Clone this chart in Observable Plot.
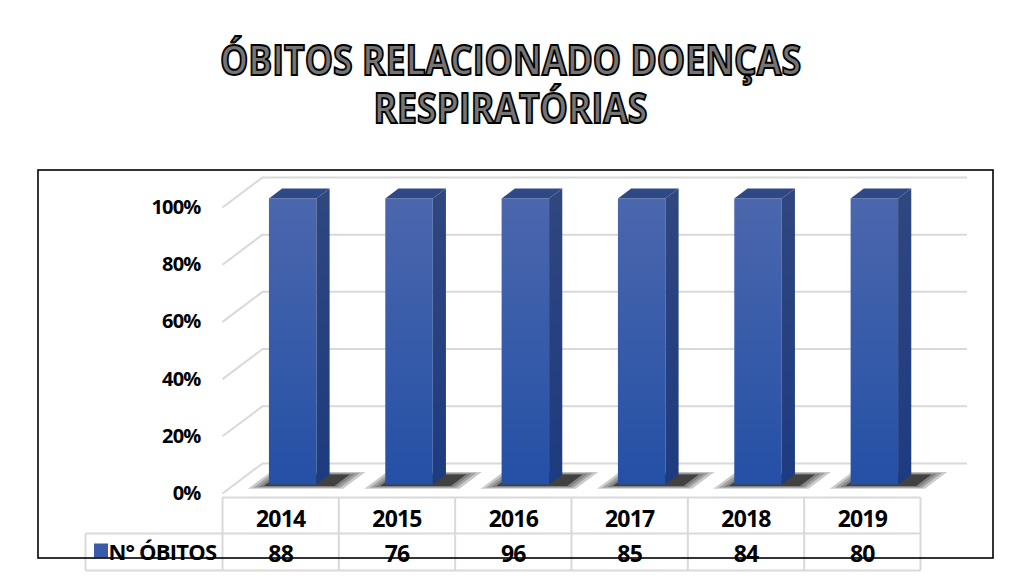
<!DOCTYPE html>
<html>
<head>
<meta charset="utf-8">
<script src="https://cdn.jsdelivr.net/npm/d3@7"></script>
<script src="https://cdn.jsdelivr.net/npm/@observablehq/plot@0.6"></script>
<style>
  html, body { margin: 0; padding: 0; background: #fff; }
  #wrap { width: 1011px; height: 579px; position: relative; overflow: hidden; }
  #title { position: relative; width: 1011px; height: 160px; }
  #tl { position: absolute; display: block; white-space: pre; text-align: center; font-family: "Open Sans", sans-serif; font-weight: 700;
        font-size: 42px; line-height: 48px; color: #757575; -webkit-text-stroke: 2px #000;
        transform-origin: 50% 0; }
  #chart svg text { letter-spacing: -0.8px; }
</style>
</head>
<body>
<div id="wrap">
  <div id="title"><div id="tl"></div></div>
  <div id="chart"></div>
</div>
<script>
// ---- data ----
const titleLines = ["ÓBITOS RELACIONADO DOENÇAS", "RESPIRATÓRIAS"];
const years = ["2014", "2015", "2016", "2017", "2018", "2019"];
const obitos = [88, 76, 96, 85, 84, 80];
const seriesName = "N° ÓBITOS";
const yTicks = [0, 0.2, 0.4, 0.6, 0.8, 1];
const yTickLabels = ["0%", "20%", "40%", "60%", "80%", "100%"];

// ---- title layout (single text block, squeezed horizontally to the reference width) ----
(function () {
  const el = document.getElementById("tl");
  el.textContent = titleLines.join("\n");
  const w = el.getBoundingClientRect().width;
  const target = 581, centerX = 511;
  el.style.top = "35px";
  el.style.left = (centerX - w / 2) + "px";
  el.style.transform = `scaleX(${target / w})`;
})();

// ---- chart geometry (100% stacked: one series, each year = 100%) ----
const share = obitos.map(v => v / v);
const DX = 0.344, DY = 0.105;   // floor depth in data units (oblique projection)
const f0 = 0.3, f1 = 0.33;      // bar front position / bar depth as fraction of floor depth
const halfW = 0.204;

const polys = [];
const shadows = [];
years.forEach((yr, i) => {
  const cx = i + f0 * DX;
  const x1 = cx - halfW, x2 = cx + halfW;
  const yb = f0 * DY, yt = share[i] + f0 * DY;
  const ox = f1 * DX, oy = f1 * DY;
  const add = (arr, face, pts) => pts.forEach(([x, y]) => arr.push({id: yr + face, face, x, y}));
  add(polys, "front", [[x1, yb], [x2, yb], [x2, yt], [x1, yt]]);
  add(polys, "side", [[x2, yb], [x2 + ox, yb + oy], [x2 + ox, yt + oy], [x2, yt]]);
  add(polys, "top", [[x1, yt], [x2, yt], [x2 + ox, yt + oy], [x1 + ox, yt + oy]]);
  // soft floor shadow: stacked translucent footprints on the floor plane (u along x, v along depth)
  const ua = x1 - 0.13, ub = x2 + 0.07, va = f0 - 0.05, vb = f0 + f1;
  for (let k = 0; k < 4; k++) {
    const du = 0.035 * k, dv = 0.03 * k;
    [[ua - du, va - dv], [ub + du, va - dv], [ub + du, vb + dv], [ua - du, vb + dv]].forEach(([u, v]) => {
      shadows.push({id: yr + "sh" + k, k, x: u + v * DX, y: v * DY});
    });
  }
});
const faceFill = {front: "url(#gFront)", side: "url(#gSide)", top: "#2f4986"};

// table geometry (pixel offsets below the 0% front line converted to y units)
const plotH = 419, mTop = 47, mBottom = 86;
const pxY = 1 / (plotH - mTop - mBottom);
const yTop = -4 * pxY, yMid = -40 * pxY, yBot = -77 * pxY;
const colW = (1011 - 222 - 91) / 6;
const xLeg = -0.5 - 137 / colW;
const bounds = d3.range(7).map(k => k - 0.5);
const hSegs = [
  {x1: -0.5, x2: 5.5, y: yTop},
  {x1: xLeg, x2: 5.5, y: yMid},
  {x1: xLeg, x2: 5.5, y: yBot}
];
const vSegs = bounds.map(b => ({x: b, y1: yTop, y2: yBot})).concat([{x: xLeg, y1: yMid, y2: yBot}]);

const gridC = "#d9d9d9";

const defs = () => {
  const d = d3.create("svg:defs");
  const g1 = d.append("linearGradient").attr("id", "gFront").attr("x1", 0).attr("y1", 0).attr("x2", 0).attr("y2", 1);
  g1.append("stop").attr("offset", 0).attr("stop-color", "#4b67ad");
  g1.append("stop").attr("offset", 1).attr("stop-color", "#2450a6");
  const g2 = d.append("linearGradient").attr("id", "gSide").attr("x1", 0).attr("y1", 0).attr("x2", 0).attr("y2", 1);
  g2.append("stop").attr("offset", 0).attr("stop-color", "#30477f");
  g2.append("stop").attr("offset", 1).attr("stop-color", "#1d3b80");
  return d.node();
};
const border = () => {
  return d3.create("svg:rect").attr("x", 38).attr("y", 10).attr("width", 955).attr("height", 388)
    .attr("fill", "none").attr("stroke", "#000").attr("stroke-width", 1.6).node();
};

const chart = Plot.plot({
  width: 1011,
  height: plotH,
  marginLeft: 222,
  marginRight: 91,
  marginTop: mTop,
  marginBottom: mBottom,
  x: {type: "linear", domain: [-0.5, 5.5], axis: null},
  y: {type: "linear", domain: [0, 1], axis: null},
  style: {fontFamily: "'Open Sans', sans-serif", overflow: "visible", background: "transparent", color: "#000"},
  marks: [
    defs,
    // back-wall gridlines
    Plot.ruleY(yTicks, {y: d => d + DY, x1: -0.5 + DX, x2: 5.5 + DX + 0.06, stroke: gridC, strokeWidth: 2}),
    // left wall diagonals
    Plot.link(yTicks, {x1: -0.5, y1: d => d, x2: -0.5 + DX, y2: d => d + DY, stroke: gridC, strokeWidth: 2}),
    // shadows (outer layers lighter, inner darker)
    Plot.line(shadows.filter(d => d.k > 0), {x: "x", y: "y", z: "id", fill: "#111", fillOpacity: 0.22, stroke: "none"}),
    Plot.line(shadows.filter(d => d.k === 0), {x: "x", y: "y", z: "id", fill: "#000", fillOpacity: 0.5, stroke: "none"}),
    // bars (3D faces)
    Plot.line(polys, {x: "x", y: "y", z: "id", fill: d => faceFill[d.face], stroke: "none"}),
    // y tick labels
    Plot.text(yTicks, {x: -0.5, y: d => d, text: (d, i) => yTickLabels[i], textAnchor: "end", dx: -22,
      fontSize: 20, fontWeight: 700, fill: "#000"}),
    // data table
    Plot.link(hSegs, {x1: "x1", x2: "x2", y1: "y", y2: "y", stroke: gridC, strokeWidth: 2}),
    Plot.link(vSegs, {x1: "x", x2: "x", y1: "y1", y2: "y2", stroke: gridC, strokeWidth: 2}),
    Plot.text(years, {x: (d, i) => i, y: 0, dy: 26, text: d => d, fontSize: 23, fontWeight: 700, fill: "#000"}),
    Plot.text(obitos, {x: (d, i) => i, y: 0, dy: 61, text: d => String(d), fontSize: 23, fontWeight: 700, fill: "#000"}),
    Plot.dot([seriesName], {x: -0.5, y: 0, dx: -121.5, dy: 57, symbol: "square", r: 7.9, fill: "#3a5ba8", stroke: "none"}),
    Plot.text([seriesName], {x: -0.5, y: 0, dx: -114, dy: 59, text: d => d, textAnchor: "start", fontSize: 22, fontWeight: 700, fill: "#000"}),
    border
  ]
});
document.getElementById("chart").appendChild(chart);
</script>
</body>
</html>
